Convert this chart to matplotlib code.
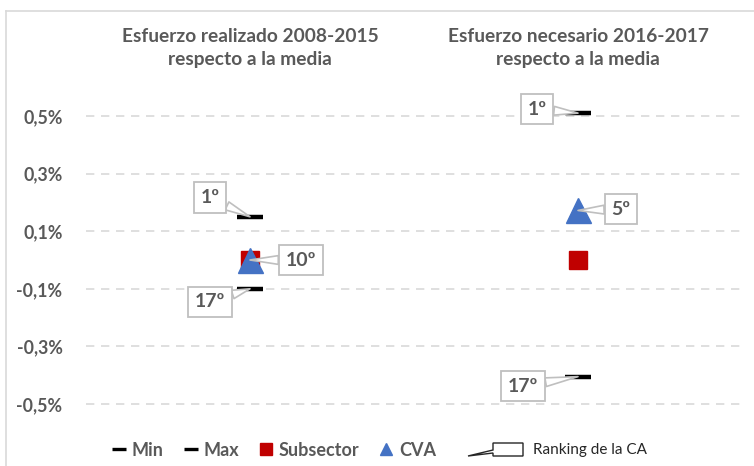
import matplotlib
matplotlib.use("Agg")
import matplotlib.pyplot as plt
from matplotlib.lines import Line2D
from matplotlib.patches import Polygon
from matplotlib.ticker import FuncFormatter
import matplotlib.transforms as mtransforms

## data (in %)
titles = ["Esfuerzo realizado 2008-2015\nrespecto a la media",
          "Esfuerzo necesario 2016-2017\nrespecto a la media"]
min_vals = [-0.10, -0.405]
max_vals = [0.15, 0.51]
subsector_vals = [0.0, 0.0]
cva_vals = [0.0, 0.172]
rank_min = ["17º", "17º"]
rank_max = ["1º", "1º"]
rank_cva = ["10º", "5º"]
yticks = [-0.5, -0.3, -0.1, 0.1, 0.3, 0.5]

gray_txt = "#595959"
plt.rcParams['font.family'] = ['Lato', 'DejaVu Sans']

fig = plt.figure(figsize=(7.54, 4.66), dpi=100)
ax = fig.add_axes([86 / 754, 1 - 432.8 / 466, 656 / 754, 345.6 / 466])

xs = [0.5, 1.5]
ax.plot(xs, min_vals, ls='none', marker='_', ms=19, mew=3.2, color='black', zorder=3)
ax.plot(xs, max_vals, ls='none', marker='_', ms=19, mew=3.2, color='black', zorder=3)
ax.plot(xs, subsector_vals, ls='none', marker='s', ms=13, color='#C00000', zorder=3)
ax.plot(xs, cva_vals, ls='none', marker='^', ms=18, color='#4472C4', zorder=4)

ax.set_xlim(0, 2)
ax.set_ylim(-0.6, 0.6)
ax.set_yticks(yticks)
ax.yaxis.set_major_formatter(FuncFormatter(lambda v, p: f"{v:.1f}%".replace('.', ',')))
ax.set_xticks([])
ax.tick_params(axis='y', length=0, pad=17, labelsize=12.8, labelcolor=gray_txt)
for t in ax.get_yticklabels():
    t.set_fontweight('bold')
ax.grid(axis='y', color='#D9D9D9', ls=(0, (5, 4)), lw=1.2)
for s in ax.spines.values():
    s.set_visible(False)

# column titles above the plot
trans = mtransforms.blended_transform_factory(ax.transData, fig.transFigure)
for x, t in zip(xs, titles):
    ax.text(x, 1 - 48 / 466, t, transform=trans, ha='center', va='center',
            fontsize=13.8, fontweight='bold', color=gray_txt, linespacing=1.4)

# ranking callouts
box = dict(boxstyle='square,pad=0.35', fc='white', ec='#BFBFBF', lw=1.3)
arrow = dict(arrowstyle='wedge,tail_width=0.45,shrink_factor=0.5', fc='white',
             ec='#BFBFBF', lw=1.2, shrinkA=0, shrinkB=0)
off_max = [(-28.8, 13.7), (-29.5, 2.9)]
off_min = [(-28.8, -9.4), (-39.6, -6.8)]
off_cva = [(36.7, 0), (31, 1)]
for i, x in enumerate(xs):
    for val, lab, off in [(max_vals[i], rank_max[i], off_max[i]),
                          (min_vals[i], rank_min[i], off_min[i]),
                          (cva_vals[i], rank_cva[i], off_cva[i])]:
        ax.annotate(lab, xy=(x, val), xytext=off, textcoords='offset points',
                    ha='center', va='center', fontsize=14, fontweight='bold',
                    color=gray_txt, bbox=box, arrowprops=arrow, zorder=5)

# legend
handles = [
    Line2D([], [], ls='none', marker='_', ms=10, mew=2.4, color='black'),
    Line2D([], [], ls='none', marker='_', ms=10, mew=2.4, color='black'),
    Line2D([], [], ls='none', marker='s', ms=9, color='#C00000'),
    Line2D([], [], ls='none', marker='^', ms=9, color='#4472C4'),
]
leg = fig.legend(handles, ['Min', 'Max', 'Subsector', 'CVA'], loc='center',
                 bbox_to_anchor=(274 / 754, 1 - 450 / 466), ncol=4,
                 frameon=False, handlelength=0.8, handletextpad=0.3, columnspacing=1.1,
                 prop={'weight': 'bold', 'size': 13})
for t in leg.get_texts():
    t.set_color(gray_txt)

# callout icon in legend
W, H = 754, 466
pts = [(493, 443), (523, 443), (523, 456), (493, 456), (493, 453), (468, 456), (493, 450)]
icon = Polygon([(px / W, 1 - py / H) for px, py in pts], closed=True, fc='white',
               ec='#262626', lw=1.0, transform=fig.transFigure)
fig.patches.append(icon)
fig.text(533 / W, 1 - 450 / H, "Ranking de la CA", ha='left', va='center',
         fontsize=11, color='#262626')

# chart frame (top and left)
fig.lines.append(Line2D([5.5 / W, 5.5 / W], [0, 1 - 10.5 / H], transform=fig.transFigure,
                        color='#D9D9D9', lw=1.2))
fig.lines.append(Line2D([5.5 / W, 1], [1 - 10.5 / H, 1 - 10.5 / H], transform=fig.transFigure,
                        color='#D9D9D9', lw=1.2))

fig.savefig("out.png", dpi=100)
